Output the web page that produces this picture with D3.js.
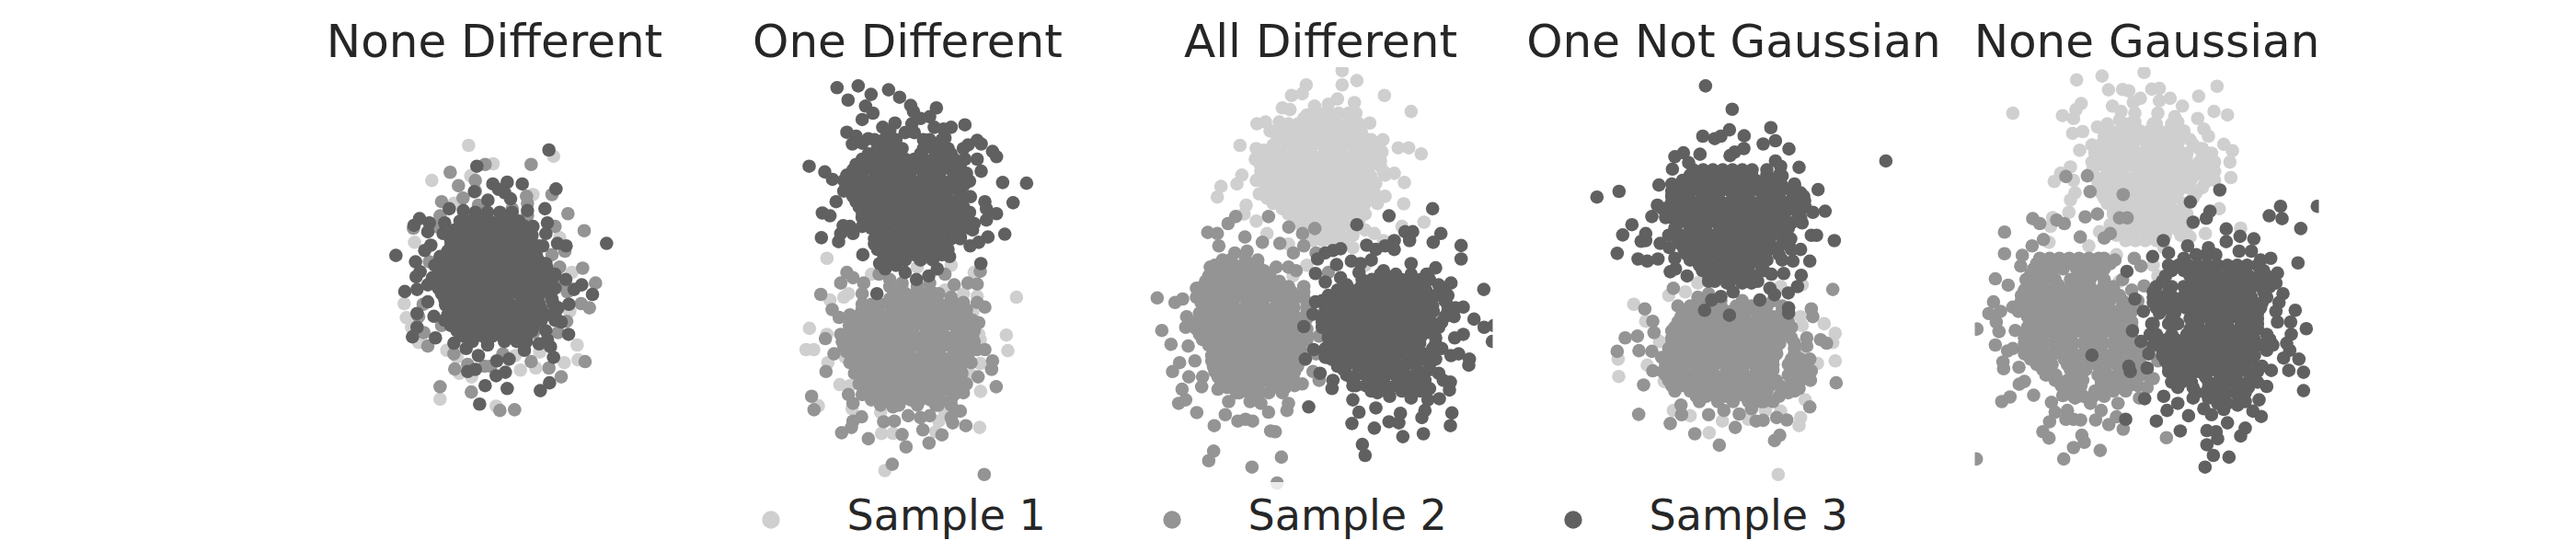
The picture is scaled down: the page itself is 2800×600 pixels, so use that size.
<!DOCTYPE html>
<html><head><meta charset="utf-8">
<script src="https://cdn.jsdelivr.net/npm/d3@7"></script>
<style>html,body{margin:0;padding:0;background:#fff}svg{display:block}text{font-family:"DejaVu Sans";fill:#262626}</style>
</head><body><div id="c"></div>
<script>
const titles=["None Different","One Different","All Different","One Not Gaussian","None Gaussian"];
const sampleNames=["Sample 1","Sample 2","Sample 3"];
const colors=["#cfcfcf","#949494","#606060"];

// Each sample: loose points as flat x,y lists, and dense cores as rows [y, x, x, ...].
const p1s1=[508,411,785,442,588,463,388,510,515,497,718,550,460,575,332,685,805,672,298,858,305,898,322,925,345,968,437,990,862,975,820,1025,865,1017,677,1046,727,1040,518,1065,478,1055,415,1128,598,1148,838,880,845,770,740,995,470,1010,660,1005];
const p1s2=[562,465,448,487,712,465,475,525,530,510,780,550,420,570,697,555,700,575,832,604,885,652,880,758,922,800,875,858,902,870,328,645,822,710,805,755,830,825,828,908,345,895,362,940,375,978,712,1022,770,1040,810,1065,888,1022,415,1093,517,1108,610,1160,658,1158,463,1043,505,1030,560,1035,415,610,490,560,530,540,720,940,680,950,800,940,780,720,800,800,380,740,360,860,420,920,580,1035,540,580,650,590,700,610,790,640,760,850,400,640,460,1000,620,1000];
const p1s3=[770,424,535,470,634,515,683,520,587,520,527,542,793,534,606,535,645,562,571,566,626,545,700,595,757,590,445,590,491,595,348,618,330,637,380,630,375,655,425,660,430,630,718,640,765,630,760,660,958,688,798,688,826,695,385,693,365,708,271,722,335,740,398,750,415,725,750,695,760,745,350,768,337,782,790,775,825,790,877,805,912,832,852,818,300,824,340,818,375,805,375,853,433,862,835,860,340,886,395,894,800,870,810,910,834,945,340,925,325,952,400,955,430,905,460,970,500,985,540,1005,570,975,600,1020,640,1015,697,965,690,990,738,972,765,960,775,980,785,1010,530,1044,505,1050,628,1052,598,1062,562,1090,634,1098,772,1082,742,1104,544,1142];
const p1s3Core=[[600,530,570,610,650],[625,480,512,544,576,608,640,672],[650,462,494,526,558,590,622,654,686],[680,450,482,514,546,578,610,642,674,706],[710,440,472,504,536,568,600,632,664,696,728],[740,430,462,494,526,558,590,622,654,686,718,740],[770,412,444,476,508,540,572,604,636,668,700,732,750],[800,400,432,464,496,528,560,592,624,656,688,720,752,770],[830,420,452,484,516,548,580,612,644,676,708,740,775],[860,450,482,514,546,578,610,642,674,706,738,785],[890,440,472,504,536,568,600,632,664,696,728,760,790],[920,450,482,514,546,578,610,642,674,706,722],[950,490,522,554,586,618,650,680]];
const p1s3Fill=[[640,490,540,590,640,690],[665,470,520,570,620,670,715],[695,450,500,550,600,650,700,735],[725,430,480,530,580,630,680,730],[755,420,470,520,570,620,670,720,762],[785,390,440,490,540,590,640,690,740,782],[815,410,460,510,560,610,660,710,760,790],[845,430,480,530,580,630,680,730,780],[875,445,495,545,595,645,695,745,795],[905,445,495,545,595,645,695,745,790],[935,470,520,570,620,670,715,760],[965,520,570,625,665]];

const p2s1=[355,730,500,775,760,750,650,755,835,770,425,830,410,840,365,848,973,840,800,830,845,838,298,928,355,945,850,945,855,960,940,947,287,988,312,988,945,991,358,1025,415,1010,855,1027,820,1055,397,1087,430,1090,856,1106,327,1147,437,1155,530,1165,740,1170,720,1190,710,1220,533,1225,570,1225,853,1208,544,1330,580,700,600,810,740,820,830,885,460,925];
const p2s2=[420,770,400,800,440,785,475,800,335,832,470,830,525,775,560,790,740,775,770,805,815,800,845,803,855,767,800,855,845,855,870,868,372,875,395,897,850,912,428,920,400,945,350,957,378,1000,352,1050,845,988,870,988,895,1020,892,1044,848,1065,907,1093,810,1085,305,1120,313,1158,425,1115,440,1140,468,1178,440,1190,435,1208,403,1223,490,1240,540,1192,575,1190,570,1150,620,1175,600,1228,613,1263,688,1252,730,1229,668,1215,690,1175,660,1180,718,1145,790,1162,760,1180,765,1195,808,1203,568,1312,868,1341,800,1110,520,1120,470,860,560,810,600,800,650,810,690,800,760,840];
const p2s2Core=[[830,580,612,644,676,708,720],[860,500,532,564,596,628,660,692,724,756,790],[890,430,462,494,526,558,590,622,654,686,718,750,782,810],[920,450,482,514,546,578,610,642,674,706,738,770,802,820],[950,420,452,484,516,548,580,612,644,676,708,740,772,804,830],[980,410,442,474,506,538,570,602,634,666,698,730,762,794,820],[1010,440,472,504,536,568,600,632,664,696,728,760,792,810],[1040,450,482,514,546,578,610,642,674,706,738,770,790],[1070,470,502,534,566,598,630,662,694,726,758,790],[1100,480,512,544,576,608,640,672,704,736,768,780],[1130,500,532,564,596,628,660,692,724,760]];
const p2s2Fill=[[845,560,610,660,710,760],[875,470,520,570,620,670,720,770,810],[905,440,490,540,590,640,690,740,790,830],[935,430,480,530,580,630,680,730,780,835],[965,405,455,505,555,605,655,705,755,805,835],[995,420,470,520,570,620,670,720,770,820],[1025,430,480,530,580,630,680,730,780,825],[1055,445,495,545,595,645,695,745,795],[1085,460,510,560,610,660,710,760,805],[1115,470,520,570,620,670,720,770],[1145,530,590,650,710,760]];
const p2s3=[388,248,457,243,424,283,499,267,556,254,592,275,481,300,505,320,470,338,628,298,637,315,712,305,690,330,660,335,632,350,577,348,537,360,805,353,760,360,735,365,705,360,420,374,450,385,490,392,438,407,470,405,640,375,610,375,845,397,858,407,815,410,800,420,895,428,908,443,845,450,805,450,858,484,297,470,348,486,373,507,810,490,820,512,928,516,1006,518,823,556,962,573,870,570,875,590,385,570,410,540,340,602,365,610,820,600,908,604,875,622,835,632,935,662,880,670,850,685,822,695,830,650,337,672,393,683,408,638,430,640,400,660,440,660,470,640,472,720,510,690,755,725,725,700,790,670,527,745,545,760,580,750,610,770,647,790,687,780,715,760,857,745,518,830,560,370,570,395,670,395,740,390,510,395];
const p2s3Core=[[420,520,552,584,600,670,702,734,750],[450,470,502,534,566,598,610,640,672,704,736,770],[480,440,472,504,536,568,600,632,664,696,728,760,790],[510,410,442,474,506,538,570,602,634,666,698,730,762,790],[540,430,462,494,526,558,590,622,654,686,718,750,790],[570,450,482,514,546,578,610,642,674,706,738,770,790],[600,470,502,534,566,598,630,662,694,726,758,780],[630,490,522,554,586,618,650,682,714,746,780],[660,530,562,594,626,658,690,722,760],[690,540,572,604,636,668,700,730],[720,540,590,640,672,704,730]];
const p2s3Fill=[[395,540,580,690,730],[435,490,540,590,660,710,760],[465,450,500,550,600,650,700,750,790],[495,420,470,520,570,620,670,720,770,800],[525,420,470,520,570,620,670,720,770,800],[555,440,490,540,590,640,690,740,790],[585,460,510,560,610,660,710,760,800],[615,470,520,570,620,670,720,770,810],[645,500,550,600,650,700,750,790,820],[675,510,560,610,660,710,760,790],[705,520,570,620,670,720,750],[735,560,610,660,700]];

const p3s1=[715,200,763,228,715,240,598,240,853,270,550,270,585,265,940,315,520,305,545,310,625,300,600,325,700,280,670,295,755,290,437,350,465,345,805,348,480,370,510,345,778,375,382,411,848,395,898,418,932,418,973,435,845,430,435,420,432,450,885,490,855,495,918,516,388,495,372,520,320,527,308,557,825,518,435,510,445,548,855,555,916,576,402,580,395,605,435,625,982,628,910,640,820,660,850,680,470,660,540,690,600,750,555,780,790,750,790,650,770,620,700,670,750,700];
const p3s1Core=[[320,640,672,704,736,760],[350,540,572,604,636,668,700,732,770],[380,500,532,564,596,628,660,692,724,756,780],[410,490,522,554,586,618,650,682,714,746,778,820],[440,460,492,524,556,588,620,652,684,716,748,780,812,830],[470,450,482,514,546,578,610,642,674,706,738,770,802,840],[500,460,492,524,556,588,620,652,684,716,748,780,810],[530,480,512,544,576,608,640,672,704,736,768,800],[560,470,502,534,566,598,630,662,694,726,758,800],[590,520,552,584,616,648,680,712,744,780],[620,560,592,624,656,688,720,760],[650,600,632,664,696,750],[680,620,652,684,720]];
const p3s1Fill=[[335,590,640,690,740],[365,530,580,630,680,730,770],[395,510,560,610,660,710,760,810],[425,460,510,560,610,660,710,760,810,840],[455,440,490,540,590,640,690,740,790,840],[485,450,500,550,600,650,700,750,800,850],[515,460,510,560,610,660,710,760,810],[545,470,520,570,620,670,720,770,820],[575,490,540,590,640,690,740,790,830],[605,540,590,640,690,740,790],[635,580,630,680,730,770],[665,610,660,710,750]];
const p3s2=[112,842,170,855,195,845,208,895,205,925,127,934,157,973,213,978,235,1020,185,1025,162,1050,215,1065,260,1065,257,1093,193,1100,205,1130,182,1140,241,1166,298,1203,334,1172,345,1135,375,1190,400,1185,423,1190,370,1110,415,1135,450,1140,475,1165,535,1160,540,1140,497,1220,482,1218,517,1292,421,1320,296,1275,280,1302,503,1365,368,612,343,632,475,612,541,642,626,646,586,660,277,657,308,660,398,670,313,695,455,685,512,688,590,695,556,715,500,755,540,755,565,765,630,715,670,770,590,810,240,815,285,755,325,735,365,715,405,710,640,1075,620,1050,585,1085,560,1090,310,1100,640,950,630,1000];
const p3s2Core=[[750,300,332,364,396,428,440],[780,280,312,344,376,408,440,480],[810,260,292,324,356,388,420,452,484,516,540],[840,240,272,304,336,368,400,432,464,496,528,560,590],[870,270,302,334,366,398,430,462,494,526,558,600],[900,250,282,314,346,378,410,442,474,506,538,570,600],[930,240,272,304,336,368,400,432,464,496,528,560,600],[960,260,292,324,356,388,420,452,484,516,548,580,600],[990,300,332,364,396,428,460,492,524,556,580],[1020,290,322,354,386,418,450,482,514,546,560],[1050,300,332,364,396,428,460,492,524,560],[1080,320,352,384,416,448,480,512,540],[1110,380,412,444,476,520]];
const p3s2Fill=[[735,350,400,440],[765,290,340,390,440,460],[795,270,320,370,420,470,510],[825,250,300,350,400,450,500,550,590],[855,255,305,355,405,455,505,555,600],[885,250,300,350,400,450,500,550,600],[915,240,290,340,390,440,490,540,590],[945,250,300,350,400,450,500,550,600],[975,280,330,380,430,480,530,580],[1005,290,340,390,440,490,540,580],[1035,295,345,395,445,495,545,570],[1065,310,360,410,460,510,555],[1095,340,390,440,490,530]];
const p3s3=[1010,590,868,610,763,635,945,655,920,655,1037,660,1012,685,1103,694,1103,732,935,680,885,680,885,705,855,695,795,693,825,705,710,703,685,708,660,715,635,732,697,748,745,738,775,745,810,735,628,773,660,797,710,785,940,745,1020,757,995,775,1070,800,1177,818,850,765,770,770,628,853,620,888,590,923,1110,868,1085,870,1145,902,1178,925,1210,920,1110,945,1082,955,1205,965,622,988,595,1015,660,1010,1095,1000,1130,1015,1128,1032,1070,1005,643,1055,700,1035,685,1075,682,1098,1030,1055,1045,1075,1068,1080,1065,1102,1000,1098,970,1105,1032,1127,995,1130,940,1125,750,1130,825,1153,905,1168,985,1160,975,1180,1073,1167,1068,1203,868,1192,900,1195,770,1165,747,1197,820,1210,913,1234,980,1226,781,1256,790,1287,606,1150,750,1090,830,1110,870,1120];
const p3s3Core=[[790,780,812,844,876,908,940,972,1000],[820,700,732,764,796,828,860,892,924,956,988,1040],[850,650,682,714,746,778,810,842,874,906,938,970,1002,1050],[880,660,692,724,756,788,820,852,884,916,948,980,1012,1060],[910,650,682,714,746,778,810,842,874,906,938,970,1002,1040],[940,670,702,734,766,798,830,862,894,926,958,990,1010],[970,680,712,744,776,808,840,872,904,936,968,1020],[1000,660,692,724,756,788,820,852,884,916,948,980,1010],[1030,700,732,764,796,828,860,892,924,956,1000],[1060,730,762,794,826,858,890,922,954,980],[1090,760,792,824,856,888,920,940]];
const p3s3Fill=[[775,840,890,940,990],[805,730,780,830,880,930,980,1030],[835,670,720,770,820,870,920,970,1020,1060],[865,660,710,760,810,860,910,960,1010,1060],[895,650,700,750,800,850,900,950,1000,1050,1080],[925,650,700,750,800,850,900,950,1000,1030],[955,670,720,770,820,870,920,970,1020],[985,660,710,760,810,860,910,960,1010,1040],[1015,680,730,780,830,880,930,980,1020],[1045,720,770,820,860,910,960,1000],[1075,750,800,850,900,950,985],[1105,810,860,910,950]];

const p4s1=[346,860,514,825,460,835,385,908,967,915,890,895,895,920,1003,942,995,968,430,965,295,1015,297,1064,390,1032,945,1027,1003,1020,445,1078,905,1130,475,1160,530,1175,635,1190,775,1160,825,1162,890,1180,885,1203,592,1223,817,1341,720,1185,825,810,895,805,555,800,890,1000];
const p4s2=[475,815,995,818,490,865,382,873,555,840,590,830,925,873,930,895,408,908,412,940,470,935,480,960,318,955,358,950,910,955,910,978,955,960,975,970,292,993,363,991,405,993,437,1010,920,1015,925,1048,408,1048,440,1050,922,1075,378,1088,1006,1082,885,1098,850,1110,500,1145,502,1172,362,1171,465,1197,545,1226,625,1258,677,1208,590,1172,640,1160,690,1170,730,1155,745,1190,768,1188,812,1180,845,1187,805,1245,822,1230,920,1150,770,1135,890,1030,870,1060];
const p4s2Core=[[850,560,592,630,700,760,800],[880,520,552,584,616,648,680,712,744,776,830],[910,490,522,554,586,618,650,682,714,746,778,810,850],[940,480,512,544,576,608,640,672,704,736,768,800,850],[970,470,502,534,566,598,630,662,694,726,758,790,822,870],[1000,460,492,524,556,588,620,652,684,716,748,780,812,870],[1030,450,482,514,546,578,610,642,674,706,738,770,800,850,885],[1060,450,482,514,546,578,610,642,674,706,738,770,790,850],[1090,470,502,534,566,598,630,662,694,726,758,790,822,860,880],[1120,550,582,614,646,678,710,742,774,820]];
const p4s2Fill=[[865,530,580,630,680,730,780,830],[895,500,550,600,650,700,750,800,840],[925,480,530,580,630,680,730,780,830,860],[955,470,520,570,620,670,720,770,820,860],[985,460,510,560,610,660,710,760,810,870],[1015,450,500,550,600,650,700,750,800,860,890],[1045,450,500,550,600,650,700,750,800,860,900],[1075,460,510,560,610,660,710,760,810,860,890],[1105,480,530,580,630,680,730,780,830,870],[1135,560,620,670,720,760,800]];
const p4s3=[580,243,667,309,793,361,658,367,630,385,610,392,571,385,706,384,808,398,768,407,852,421,705,420,675,430,660,440,562,436,508,432,480,443,525,460,472,478,808,455,825,470,885,473,1168,455,830,497,428,523,470,520,505,510,298,541,226,557,870,520,947,536,890,545,903,568,423,580,440,590,405,612,450,615,930,600,970,597,895,630,340,635,310,664,385,660,370,682,385,680,432,688,460,665,462,700,925,665,942,665,1000,680,858,675,292,716,890,705,360,732,390,738,425,732,480,730,920,738,865,738,835,773,795,775,482,760,465,768,520,780,892,778,880,810,850,828,790,815,805,833,757,848,630,838,600,848,577,877,658,891,851,870,851,885,590,795,650,800,700,800,730,800,670,825];
const p4s3Core=[[480,540,572,604,636,668,700,732,780],[510,520,552,584,616,648,680,712,744,776,800],[540,470,502,534,566,598,630,662,694,726,758,790,822,860],[570,470,502,534,566,598,630,662,694,726,758,790,822,854,880],[600,480,512,544,576,608,640,672,704,736,768,800,840,880],[630,490,522,554,586,618,650,682,714,746,778,800,830,860],[660,490,522,554,586,618,650,682,714,746,778,810,840],[690,500,532,564,596,628,660,692,724,756,788,830],[720,520,552,584,616,648,680,712,744,776,820],[750,560,592,624,656,688,720,760],[780,590,622,654,686,720,740]];
const p4s3Fill=[[495,530,580,630,680,730,780,820],[525,490,540,590,640,690,740,790,830,870],[555,470,520,570,620,670,720,770,820,870,900],[585,460,510,560,610,660,710,760,810,860,905],[615,470,520,570,620,670,720,770,830,890],[645,480,530,580,630,680,730,780,850],[675,490,540,590,640,690,740,790,850],[705,510,560,610,660,710,760,810,860],[735,530,580,630,680,730,780,830],[765,570,620,670,720,770],[795,610,660,710,750]];

const p5s1=[470,226,553,215,690,205,928,244,574,254,620,253,640,257,715,252,740,250,868,272,262,320,485,293,468,310,460,335,424,327,587,300,615,315,655,290,678,278,775,278,740,285,815,300,918,315,962,325,865,335,538,359,457,377,490,372,885,365,900,385,520,410,480,425,950,408,978,426,970,458,880,420,450,472,418,490,397,513,973,502,460,510,465,545,450,565,935,590,445,600,392,615,890,660,1005,645,385,640,380,685,545,655,720,750,735,780,610,795,915,470,920,510,830,640,840,670,600,720,510,695,755,700,610,340,660,320,735,320,790,330,660,345,730,350,800,345];
const p5s1Core=[[370,580,612,644,676,708,740,772,804,820],[395,570,602,634,666,698,730,762,794,840],[420,560,592,624,656,700,732,764,796,870],[445,540,572,604,636,668,700,732,764,796,828,880],[470,530,562,594,626,658,690,722,754,786,818,850,900],[500,530,562,594,626,658,690,722,754,786,818,850,890],[530,540,572,604,636,668,700,732,764,796,828,880],[560,560,592,624,656,688,720,752,784,850],[590,590,622,654,686,718,750,782,820],[620,600,632,664,696,728,760,790,820],[650,600,632,664,696,728,760,800],[680,630,662,694,730]];
const p5s1Fill=[[350,570,640,720,780],[385,560,610,660,710,760,810],[408,550,600,650,700,750,800,850],[433,530,580,630,680,730,780,830,880,910],[458,520,570,620,670,720,770,820,870,920],[485,520,570,620,670,720,770,820,870,920],[515,540,590,640,690,740,790,840,890],[545,550,600,650,700,750,800,860],[575,570,620,670,720,770,820],[605,590,640,690,740,790,830],[635,580,630,680,730,780,820],[665,600,650,700,760,810]];
const p5s2=[435,499,505,497,514,542,622,550,327,618,350,632,405,622,430,632,498,613,538,605,610,616,635,616,235,656,580,660,560,673,362,677,325,695,482,670,235,717,293,722,288,752,595,735,658,730,680,752,205,788,247,806,305,790,199,853,222,880,184,886,262,868,208,910,217,937,270,934,205,975,145,930,262,985,245,992,230,1023,232,1042,282,1038,143,1297,283,1086,300,1078,330,1117,253,1122,226,1135,388,1137,400,1165,440,1160,435,1185,460,1185,483,1187,382,1192,360,1220,380,1238,487,1230,495,1250,460,1265,428,1297,547,1273,532,1187,550,1160,575,1200,600,1178,622,1213,763,1237,605,1140,515,1140,465,1125,425,1118,675,1125,700,1095,650,820,690,808,620,790,590,810,720,1070,700,1060,670,1090,735,1020,680,980,670,850];
const p5s2Core=[[730,350,382,414,446,478,510,542,560],[760,330,362,394,426,470,502,534,560],[790,340,370,400,450,482,514,560],[820,300,332,364,396,428,460,492,524,556,590],[850,290,322,354,386,418,450,482,514,546,578,620],[880,280,312,344,376,408,440,472,504,536,568,600,650],[910,320,352,384,416,448,480,512,544,576,608,650],[940,300,332,364,396,428,460,492,524,556,588,620,650],[970,300,332,364,396,428,460,492,524,556,588,620,640],[1000,300,332,364,396,428,460,492,524,556,588,620,650],[1030,340,390,440,472,504,536,568,600,632,680],[1060,370,402,470,540,572,604,636,680],[1090,420,452,484,550,582,614,640],[1120,460,492,524,560]];
const p5s2Fill=[[745,340,390,440,490,540,580],[775,320,370,480,530],[805,310,360,410,460,510,560],[835,290,340,390,440,490,540,590,610],[865,280,330,380,430,480,530,620,640],[895,310,360,410,460,510,560,610,640],[925,310,360,410,460,510,560,610,650],[955,300,350,400,450,500,550,600,650],[985,300,350,400,450,500,550,600,640],[1015,320,370,430,480,530,580,630,670],[1045,360,450,500,560,610,660,700],[1075,400,440,490,550,600,650],[1105,440,480,530,590,630]];
const p5s3=[937,537,841,571,905,597,893,617,850,628,1135,583,1098,610,1140,618,1255,583,1201,646,958,647,958,683,1003,668,1048,675,753,680,832,695,770,715,718,725,820,730,900,700,1000,710,1040,710,1070,735,1103,730,1192,743,1125,772,1120,800,634,767,660,845,1143,830,1130,855,1183,877,1120,880,1125,910,1168,910,1219,929,1170,945,652,935,688,880,715,915,1100,960,1155,970,1165,990,1145,1012,1195,1015,1162,1047,1210,1052,1105,1047,1210,1104,520,1004,640,1035,645,1050,692,1127,754,1120,630,1185,765,1160,800,1140,835,1175,885,1155,910,1172,950,1157,995,1145,1020,1135,1065,1130,1045,1162,1072,1177,730,1190,808,1218,962,1195,1020,1210,1005,1232,895,1217,925,1220,930,1240,895,1257,916,1287,967,1292,889,1320,700,1040,705,1000,680,965,710,945,1090,1092,1060,1080];
const p5s3Core=[[720,860,892,924],[750,770,802,834,866,898,930,962,994,1026,1060],[780,760,840,872,904,936,968,1000,1032,1064,1090],[810,730,780,820,852,884,916,948,980,1012,1044,1076,1100],[840,720,752,784,816,848,880,912,944,976,1008,1040,1090],[870,730,762,794,826,858,890,922,954,986,1018,1050,1070],[900,780,840,872,904,936,968,1000,1032,1060],[930,840,872,904,936,968,1000,1032,1060],[960,730,762,794,826,858,890,922,954,986,1018,1050,1100],[990,750,782,814,846,878,910,942,974,1006,1038,1090],[1020,760,792,824,856,888,920,952,984,1016,1040],[1050,770,802,834,866,898,930,962,994,1026,1060],[1080,780,812,844,900,932,964,996,1030],[1110,860,892,924,956,988,1020],[1140,930,962,1000]];
const p5s3Fill=[[765,780,820,870,920,970,1020,1080],[795,750,850,900,950,1000,1050,1095],[825,720,770,830,880,930,980,1030,1080],[855,720,770,820,870,920,970,1020,1075],[885,740,790,860,910,960,1010,1060],[915,720,770,800,860,910,960,1010,1060],[945,730,780,830,880,930,980,1030,1090],[975,720,770,820,870,920,970,1020,1070,1110],[1005,750,800,850,900,950,1000,1050],[1035,770,820,870,920,970,1020,1075],[1065,790,840,890,940,990,1040],[1095,800,850,900,950,1000,1030],[1125,850,900,950,1000]];

const panels=[
 {s:[[p1s1,[]],[p1s2,[]],[p1s3,p1s3Core.concat(p1s3Fill)]]},
 {s:[[p2s1,[]],[p2s2,p2s2Core.concat(p2s2Fill)],[p2s3,p2s3Core.concat(p2s3Fill)]]},
 {s:[[p3s1,p3s1Core.concat(p3s1Fill)],[p3s2,p3s2Core.concat(p3s2Fill)],[p3s3,p3s3Core.concat(p3s3Fill)]]},
 {s:[[p4s1,[]],[p4s2,p4s2Core.concat(p4s2Fill)],[p4s3,p4s3Core.concat(p4s3Fill)]]},
 {s:[[p5s1,p5s1Core.concat(p5s1Fill)],[p5s2,p5s2Core.concat(p5s2Fill)],[p5s3,p5s3Core.concat(p5s3Fill)]]}
];
const xDomainStart=[31.5,57,84,111,138];
const xDomainSpan=1122;

const W=2800,H=600,R=7.3;
const svg=d3.select("#c").append("svg").attr("width",W).attr("height",H);
const step=449,panelW=374,plotTop=73,plotBottom=540;
const y=d3.scaleLinear().domain([190,1404]).range([plotTop,plotBottom]);
function toPoints(flat,core){
  const out=[];
  for(const r of core){for(let i=1;i<r.length;i++)out.push([r[i],r[0]]);}
  for(let i=0;i<flat.length;i+=2)out.push([flat[i],flat[i+1]]);
  return out;
}
panels.forEach((p,i)=>{
  const x0=350.5+step*i;
  const x=d3.scaleLinear().domain([xDomainStart[i],xDomainStart[i]+xDomainSpan]).range([x0,x0+panelW]);
  svg.append("clipPath").attr("id","clip"+i).append("rect").attr("x",x0).attr("y",plotTop).attr("width",panelW).attr("height",plotBottom-plotTop);
  const g=svg.append("g").attr("clip-path",`url(#clip${i})`);
  p.s.forEach((s,k)=>{
    g.append("g").selectAll("circle").data(toPoints(s[0],s[1])).join("circle")
      .attr("cx",d=>x(d[0])).attr("cy",d=>y(d[1])).attr("r",R).attr("fill",colors[k]);
  });
  svg.append("text").attr("x",x0+panelW/2).attr("y",61.5).attr("text-anchor","middle").attr("font-size",50).text(titles[i]);
});
// legend
svg.append("rect").attr("x",810).attr("y",524).attr("width",1200).attr("height",76).attr("fill","#fff").attr("opacity",0.8);
const legendX=d3.scalePoint().domain(sampleNames).range([838,1710]);
sampleNames.forEach((n,k)=>{
  svg.append("circle").attr("cx",legendX(n)).attr("cy",565).attr("r",9.7).attr("fill",colors[k]);
  svg.append("text").attr("x",legendX(n)+82.5).attr("y",575.5).attr("font-size",46).text(n);
});
</script></body></html>
